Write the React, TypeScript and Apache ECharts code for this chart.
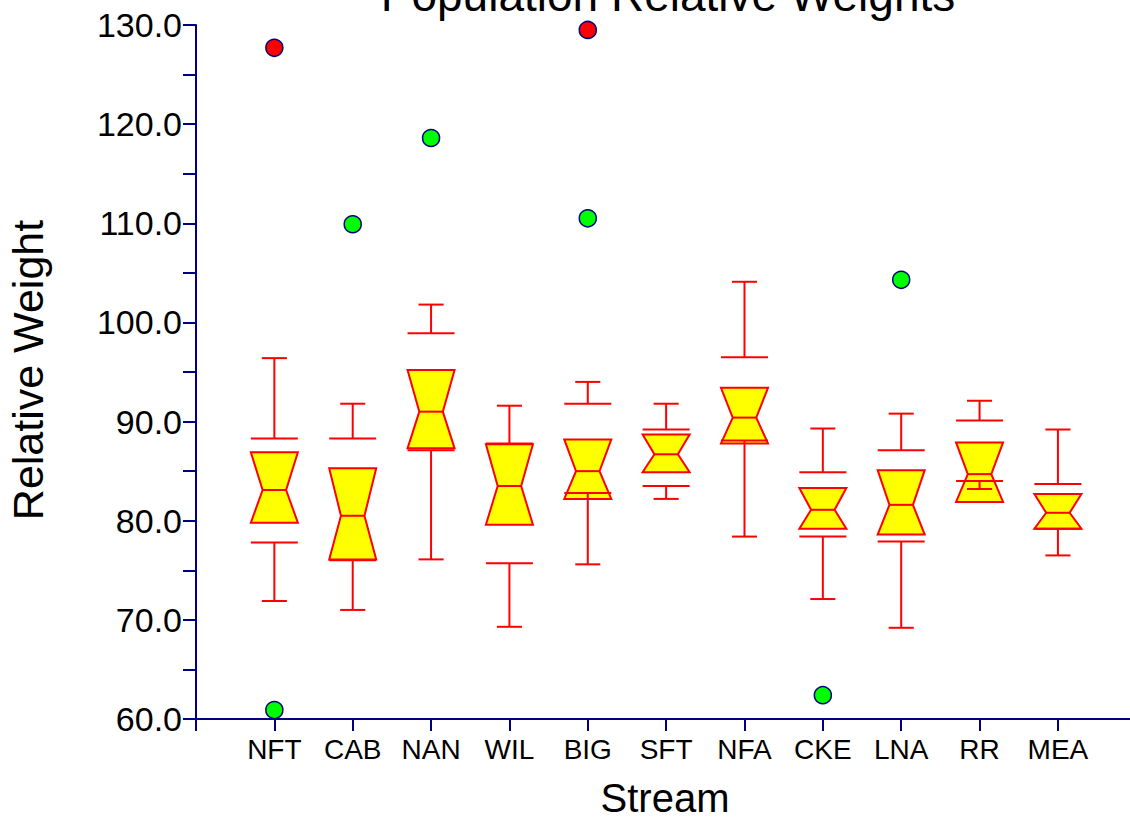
import React, { useEffect, useRef } from "react";
import * as echarts from "echarts";

const categories = ["NFT", "CAB", "NAN", "WIL", "BIG", "SFT", "NFA", "CKE", "LNA", "RR", "MEA"];
const lowerCap = [71.9, 71.0, 76.1, 69.3, 75.6, 82.2, 78.4, 72.1, 69.2, 83.2, 76.5];
const lowerFence = [77.8, 76.0, 87.1, 75.7, 82.8, 83.5, 88.1, 78.4, 77.9, 84.0, 79.2];
const q1 = [79.8, 76.1, 87.3, 79.6, 82.2, 84.9, 87.8, 79.2, 78.6, 81.9, 79.2];
const median = [83.1, 80.5, 91.0, 83.5, 85.0, 86.7, 90.4, 81.1, 81.6, 84.7, 80.8];
const q3 = [86.9, 85.3, 95.2, 87.7, 88.2, 88.7, 93.4, 83.3, 85.1, 87.9, 82.7];
const upperFence = [88.3, 88.3, 98.9, 87.8, 91.8, 89.2, 96.5, 84.9, 87.1, 90.1, 83.7];
const upperCap = [96.4, 91.8, 101.8, 91.6, 94.0, 91.8, 104.1, 89.3, 90.8, 92.1, 89.2];

// outliers: [category index, value]
const farOutliers = [
  [0, 127.7],
  [4, 129.5],
];
const nearOutliers = [
  [0, 60.9],
  [1, 109.9],
  [2, 118.6],
  [4, 110.5],
  [7, 62.4],
  [8, 104.3],
];

const yTicks = { min: 60, max: 130, step: 5 };

const FONT = "'Liberation Sans', Arial, sans-serif";
const RED = "#ff0000";
const NAVY = "#000080";

export default function App() {
  const ref = useRef<HTMLDivElement>(null);
  useEffect(() => {
    if (!ref.current) return;
    const chart = echarts.init(ref.current, null, { renderer: "svg" });

    const boxData = categories.map((_, i) => [
      i + 1,
      lowerCap[i],
      lowerFence[i],
      q1[i],
      median[i],
      q3[i],
      upperFence[i],
      upperCap[i],
    ]);

    const renderItem = (params: any, api: any) => {
      const x = api.value(0);
      const lc = api.value(1);
      const lf = api.value(2);
      const a = api.value(3);
      const m = api.value(4);
      const b = api.value(5);
      const uf = api.value(6);
      const uc = api.value(7);
      const half = 0.3;
      const notch = 0.15;
      const cap = 0.16;
      const P = (dx: number, v: number) => api.coord([x + dx, v]);
      const lineStyle = { stroke: RED, lineWidth: 2 };
      const seg = (p1: number[], p2: number[]) => ({
        type: "line",
        shape: { x1: p1[0], y1: p1[1], x2: p2[0], y2: p2[1] },
        style: lineStyle,
      });
      const children: any[] = [
        {
          type: "polygon",
          shape: {
            points: [
              P(-half, b),
              P(half, b),
              P(notch, m),
              P(half, a),
              P(-half, a),
              P(-notch, m),
            ],
          },
          style: { fill: "#ffff00", stroke: RED, lineWidth: 2, lineJoin: "miter" },
        },
        seg(P(-notch, m), P(notch, m)),
        seg(P(-half, uf), P(half, uf)),
        seg(P(-half, lf), P(half, lf)),
        seg(P(0, uf), P(0, uc)),
        seg(P(0, lf), P(0, lc)),
        seg(P(-cap, uc), P(cap, uc)),
        seg(P(-cap, lc), P(cap, lc)),
      ];
      return { type: "group", children };
    };

    const option: any = {
      animation: false,
      backgroundColor: "#ffffff",
      grid: { left: 196, right: 0, top: 25, bottom: 100, containLabel: false },
      xAxis: {
        type: "value",
        min: 0,
        max: 11.92,
        interval: 1,
        axisLine: { show: true, lineStyle: { color: NAVY, width: 2 } },
        axisTick: { show: true, inside: false, length: 12, lineStyle: { color: NAVY, width: 2 } },
        splitLine: { show: false },
        axisLabel: {
          margin: 16,
          fontSize: 28,
          color: "#000",
          fontFamily: FONT,
          showMaxLabel: false,
          formatter: (v: number) => (v >= 1 && v <= categories.length && Number.isInteger(v) ? categories[v - 1] : ""),
        },
      },
      yAxis: {
        type: "value",
        min: yTicks.min,
        max: yTicks.max,
        interval: yTicks.step,
        axisLine: { show: true, lineStyle: { color: NAVY, width: 2 } },
        axisTick: { show: true, inside: false, length: 13, lineStyle: { color: NAVY, width: 2 } },
        splitLine: { show: false },
        axisLabel: {
          margin: 14,
          fontSize: 34,
          color: "#000",
          fontFamily: FONT,
          formatter: (v: number) => (v % 10 === 0 ? v.toFixed(1) : ""),
        },
      },
      graphic: [
        {
          type: "text",
          x: 668,
          y: -5,
          style: {
            text: "Population Relative Weights",
            font: `46px ${FONT}`,
            fill: "#000",
            align: "center",
            verticalAlign: "middle",
          },
        },
        {
          type: "text",
          x: 665,
          y: 798,
          style: {
            text: "Stream",
            font: `40px ${FONT}`,
            fill: "#000",
            align: "center",
            verticalAlign: "middle",
          },
        },
        {
          type: "text",
          x: 28,
          y: 370,
          rotation: Math.PI / 2,
          style: {
            text: "Relative Weight",
            font: `43px ${FONT}`,
            fill: "#000",
            align: "center",
            verticalAlign: "middle",
          },
        },
      ],
      series: [
        {
          type: "custom",
          renderItem,
          data: boxData,
          encode: { x: 0, y: [1, 2, 3, 4, 5, 6, 7] },
          clip: false,
          z: 2,
        },
        {
          type: "scatter",
          data: farOutliers.map((d) => [d[0] + 1, d[1]]),
          symbol: "circle",
          symbolSize: 17,
          itemStyle: { color: RED, borderColor: NAVY, borderWidth: 1.5, opacity: 1 },
          z: 3,
        },
        {
          type: "scatter",
          data: nearOutliers.map((d) => [d[0] + 1, d[1]]),
          symbol: "circle",
          symbolSize: 17,
          itemStyle: { color: "#00ff00", borderColor: NAVY, borderWidth: 1.5, opacity: 1 },
          z: 3,
        },
      ],
    };
    chart.setOption(option);
    return () => chart.dispose();
  }, []);
  return (
    <div
      ref={ref}
      style={{ position: "fixed", left: 0, top: 0, width: 1130, height: 819, background: "#fff" }}
    />
  );
}
